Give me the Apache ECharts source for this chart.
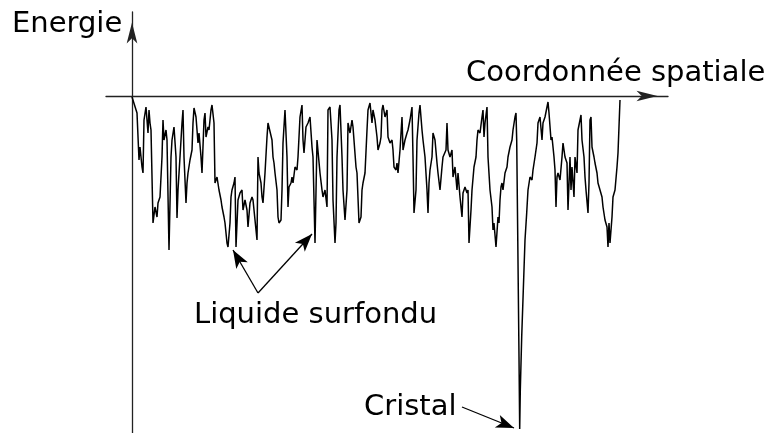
<!DOCTYPE html>
<html>
<head>
<meta charset="utf-8">
<title>Energie</title>
<script src="https://cdn.jsdelivr.net/npm/echarts@6/dist/echarts.min.js"></script>
<style>
html, body { margin: 0; padding: 0; background: #fff; }
#chart { width: 772px; height: 433px; }
</style>
</head>
<body>
<div id="chart"></div>
<script>
var positions = [
	0, 5, 7, 8, 9, 10, 11, 12, 14, 15, 16, 17, 18, 19, 21, 23, 25, 26, 28, 30,
	31, 32, 34, 35, 37, 39, 40, 42, 44, 45, 46, 48, 50, 51, 52, 54, 55, 56, 58, 60,
	61, 62, 64, 65, 66, 67, 69, 70, 72, 73, 74, 76, 77, 79, 80, 82, 83, 85, 87, 89,
	90, 92, 93, 95, 96, 98, 99, 100, 102, 103, 104, 106, 108, 110, 111, 113, 115, 116, 118, 120,
	121, 123, 125, 126, 127, 129, 130, 131, 133, 135, 136, 138, 140, 141, 142, 143, 145, 146, 147, 149,
	150, 151, 152, 153, 155, 156, 157, 159, 160, 161, 163, 165, 166, 168, 170, 171, 172, 174, 176, 178,
	180, 181, 183, 185, 186, 188, 190, 191, 193, 195, 196, 198, 200, 201, 203, 204, 205, 207, 208, 210,
	211, 213, 215, 216, 218, 220, 221, 224, 225, 227, 229, 230, 231, 233, 235, 236, 238, 240, 241, 243,
	245, 246, 248, 249, 250, 251, 253, 255, 256, 258, 260, 261, 262, 264, 265, 266, 268, 270, 271, 273,
	275, 276, 278, 280, 281, 282, 284, 285, 287, 288, 290, 291, 293, 295, 296, 297, 298, 300, 301, 303,
	305, 306, 308, 310, 311, 313, 314, 315, 316, 318, 320, 321, 323, 325, 326, 328, 330, 331, 333, 335,
	336, 337, 339, 340, 342, 344, 345, 346, 348, 350, 351, 352, 353, 355, 356, 358, 360, 361, 362, 364,
	366, 367, 368, 369, 370, 371, 373, 375, 376, 378, 380, 381, 383, 384, 384.7, 385.7, 386.3, 387, 387.7, 388.3,
	389.7, 391.3, 393, 394.7, 396, 398, 400, 401, 403, 405, 406, 408, 410, 411, 413, 415, 416, 417, 419, 420,
	422, 423, 424, 425, 426, 428, 430, 431, 433, 435, 436, 438, 439, 440, 442, 443, 445, 446, 448, 449,
	450, 452, 453, 454, 456, 457, 458, 459, 460, 462, 463, 465, 466, 468, 470, 471, 473, 475, 476, 477,
	478, 480, 481, 483, 485, 486, 488
];
var energies = [
	-1, -17, -64, -51, -61, -71, -77, -24, -11, -9, -37, -14, -27, -34, -127, -111, -121, -107, -101, -61,
	-24, -44, -34, -44, -154, -61, -44, -31, -61, -122, -94, -61, -27, -14, -61, -107, -87, -77, -64, -54,
	-27, -12, -21, -34, -47, -37, -61, -77, -24, -17, -41, -31, -34, -14, -9, -27, -87, -81, -94, -104,
	-111, -121, -127, -147, -151, -127, -101, -94, -87, -81, -151, -104, -97, -94, -114, -104, -114, -131, -107, -101,
	-104, -124, -144, -61, -77, -87, -101, -107, -77, -41, -27, -27, -44, -61, -67, -77, -94, -121, -127, -124,
	-94, -47, -47, -14, -61, -111, -91, -87, -81, -87, -71, -74, -61, -21, -9, -44, -57, -31, -27, -21,
	-51, -61, -147, -44, -42, -77, -94, -101, -94, -111, -14, -11, -44, -104, -147, -127, -61, -14, -9, -61,
	-94, -124, -94, -27, -37, -24, -31, -71, -77, -127, -121, -94, -87, -77, -34, -14, -7, -27, -14, -24,
	-41, -54, -47, -41, -14, -9, -21, -14, -41, -47, -44, -54, -71, -74, -67, -77, -54, -21, -54, -44,
	-37, -34, -24, -11, -61, -117, -94, -44, -17, -9, -34, -44, -61, -94, -117, -87, -74, -61, -37, -44,
	-67, -77, -94, -71, -61, -61, -54, -27, -54, -61, -54, -81, -71, -94, -77, -101, -121, -97, -91, -97,
	-94, -147, -114, -94, -71, -61, -44, -34, -37, -21, -14, -41, -27, -11, -61, -94, -111, -134, -127, -151,
	-121, -127, -104, -91, -87, -94, -77, -71, -61, -51, -44, -34, -21, -17, -44, -137, -194, -261, -333, -294,
	-241, -194, -144, -117, -94, -81, -84, -74, -61, -47, -27, -21, -44, -27, -21, -11, -6, -17, -44, -41,
	-61, -74, -111, -81, -77, -84, -61, -47, -61, -67, -114, -61, -94, -71, -101, -61, -77, -34, -24, -19,
	-44, -61, -81, -94, -117, -87, -24, -21, -51, -61, -67, -77, -87, -94, -101, -111, -124, -131, -151, -127,
	-147, -121, -101, -94, -71, -57, -4
];
// flèches d'annotation : [départ, pointe]
var liquideArrows = [[[126, -197], [101, -154]], [[126, -197], [180, -138]]];
var cristalArrow = [[330, -311], [382, -332]];

var curve = [];
for (var i = 0; i < positions.length; i++) {
	curve.push([positions[i], energies[i]]);
}

var headSize = [10, 18];
function pointer(from, to) {
	return [{coord: from}, {coord: to, symbolSize: headSize}];
}
var pointers = [];
for (var j = 0; j < liquideArrows.length; j++) {
	pointers.push(pointer(liquideArrows[j][0], liquideArrows[j][1]));
}
pointers.push(pointer(cristalArrow[0], cristalArrow[1]));

var axisLine = {
	show: true,
	onZero: true,
	symbol: ['none', 'arrow'],
	symbolSize: [8, 21],
	symbolOffset: [0, -10.5],
	lineStyle: {color: '#222', width: 1.3}
};
var font = '29px "DejaVu Sans"';

var myChart = echarts.init(document.getElementById('chart'));
var option = {
	animation: false,
	backgroundColor: '#fff',
	grid: {left: 106, right: 104, top: 12, bottom: 0, containLabel: false, outerBoundsMode: 'none'},
	xAxis: {
		type: 'value', min: -26, max: 536,
		axisLine: axisLine,
		axisTick: {show: false}, axisLabel: {show: false}, splitLine: {show: false}
	},
	yAxis: {
		type: 'value', min: -337, max: 84,
		axisLine: axisLine,
		axisTick: {show: false}, axisLabel: {show: false}, splitLine: {show: false}
	},
	series: [{
		type: 'line',
		data: curve,
		showSymbol: false,
		silent: true,
		lineStyle: {color: '#000', width: 1.5},
		markLine: {
			silent: true,
			symbol: ['none', 'arrow'],
			symbolSize: [headSize, headSize],
			label: {show: false},
			emphasis: {disabled: true},
			lineStyle: {color: '#000', width: 1.3, type: 'solid'},
			data: pointers
		}
	}],
	graphic: [
		{type: 'text', x: 12, y: 24, style: {text: 'Energie', font: font, fill: '#000', verticalAlign: 'middle'}},
		{type: 'text', x: 466, y: 73, style: {text: 'Coordonnée spatiale', font: font, fill: '#000', verticalAlign: 'middle'}},
		{type: 'text', x: 194, y: 315, style: {text: 'Liquide surfondu', font: font, fill: '#000', verticalAlign: 'middle'}},
		{type: 'text', x: 364, y: 407, style: {text: 'Cristal', font: font, fill: '#000', verticalAlign: 'middle'}}
	]
};
myChart.setOption(option);
</script>
</body>
</html>
